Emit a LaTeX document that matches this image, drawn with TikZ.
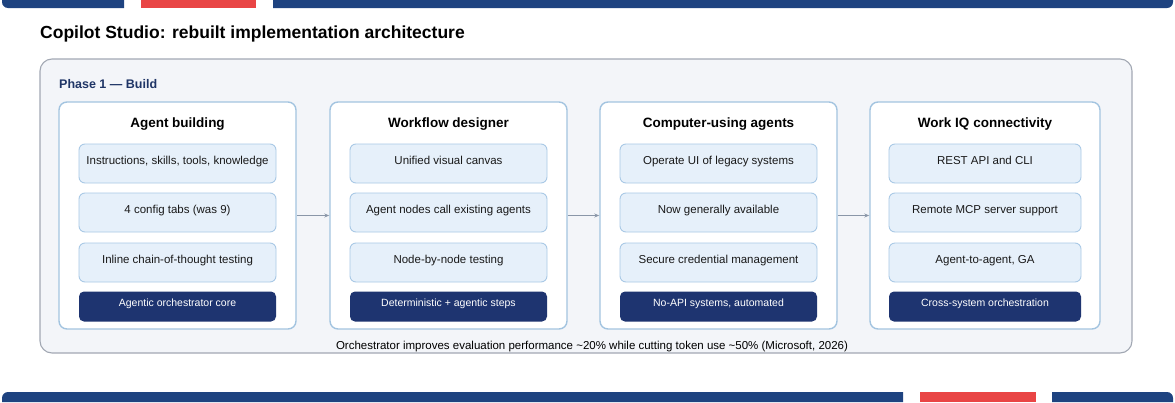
\documentclass[tikz,border=0pt]{standalone}
\usepackage{fontspec}
\setmainfont{Liberation Sans}
\usetikzlibrary{arrows.meta}
\definecolor{barblue}{HTML}{1E4380}
\definecolor{barred}{HTML}{E94545}
\definecolor{darkbox}{HTML}{1E3470}
\definecolor{phasecol}{HTML}{1F3566}
\definecolor{panelfill}{HTML}{F3F5F9}
\definecolor{panelline}{HTML}{A2A8B3}
\definecolor{cardline}{HTML}{A3C4E0}
\definecolor{itemfill}{HTML}{E6F0FA}
\definecolor{itemline}{HTML}{A9C9E6}
\definecolor{arrowcol}{HTML}{8A96A8}
\begin{document}
\begin{tikzpicture}[x=1pt,y=-1pt,
  panel/.style={draw=panelline, fill=panelfill, line width=1.1pt, rounded corners=12pt, minimum width=1092pt, minimum height=294pt, inner sep=0pt},
  card/.style={draw=cardline, fill=white, line width=1.4pt, rounded corners=8pt, minimum height=227pt, inner sep=0pt},
  cardtitle/.style={font=\bfseries\fontsize{13.5}{15}\selectfont, text=black, inner sep=0pt, anchor=base},
  item/.style={draw=itemline, fill=itemfill, line width=0.9pt, rounded corners=6pt, minimum height=39pt, inner sep=0pt, text height=8pt, text depth=7pt, font=\fontsize{11.5}{13}\selectfont, text=black!90},
  dark/.style={fill=darkbox, rounded corners=5pt, minimum height=30pt, inner sep=0pt, text height=7pt, text depth=8pt, font=\fontsize{10.5}{12}\selectfont, text=white},
  flow/.style={draw=arrowcol, line width=0.9pt, -{Stealth[length=5pt,width=4pt]}}
]
\useasboundingbox (0,0) rectangle (1175,402);
% decorative bars
\fill[barblue] (124,0) -- (124,8) [rounded corners=6pt] -- (2,8) [sharp corners] -- (2,0) -- cycle;
\fill[barred] (141,0) rectangle (256,8);
\fill[barblue] (273,0) -- (273,8) [rounded corners=6pt] -- (1173,8) [sharp corners] -- (1173,0) -- cycle;
\fill[barblue] (903,402) -- (903,392) [rounded corners=6pt] -- (2,392) [sharp corners] -- (2,402) -- cycle;
\fill[barred] (920,392) rectangle (1036,402);
\fill[barblue] (1052,402) -- (1052,392) [rounded corners=6pt] -- (1173,392) [sharp corners] -- (1173,402) -- cycle;
% title
\node[anchor=base west, inner sep=0pt, font=\bfseries\fontsize{17.5}{20}\selectfont] (title) at (40,38) {Copilot Studio: rebuilt implementation architecture};
% panel
\node[panel] (panel) at (586,206) {};
\node[anchor=base west, inner sep=0pt, text=phasecol, font=\bfseries\fontsize{12.5}{14}\selectfont] (phase) at (59,88) {Phase 1 — Build};
% cards
\node[card, minimum width=237pt] (c1) at (177.5,215.5) {};
\node[card, minimum width=237pt] (c2) at (448.5,215.5) {};
\node[card, minimum width=237pt] (c3) at (718.5,215.5) {};
\node[card, minimum width=230pt] (c4) at (985,215.5) {};
\node[cardtitle] (t1) at ([yshift=-26pt]c1.north) {Agent building};
\node[cardtitle] (t2) at ([yshift=-26pt]c2.north) {Workflow designer};
\node[cardtitle] (t3) at ([yshift=-26pt]c3.north) {Computer-using agents};
\node[cardtitle] (t4) at ([yshift=-26pt]c4.north) {Work IQ connectivity};
% items card 1
\node[item, minimum width=197pt] (a1) at (177.5,163.5) {Instructions, skills, tools, knowledge};
\node[item, minimum width=197pt] (a2) at (177.5,212.5) {4 config tabs (was 9)};
\node[item, minimum width=197pt] (a3) at (177.5,262.5) {Inline chain-of-thought testing};
\node[dark, minimum width=197pt] (a4) at (177.5,306.5) {Agentic orchestrator core};
% items card 2
\node[item, minimum width=197pt] (b1) at (448.5,163.5) {Unified visual canvas};
\node[item, minimum width=197pt] (b2) at (448.5,212.5) {Agent nodes call existing agents};
\node[item, minimum width=197pt] (b3) at (448.5,262.5) {Node-by-node testing};
\node[dark, minimum width=197pt] (b4) at (448.5,306.5) {Deterministic + agentic steps};
% items card 3
\node[item, minimum width=197pt] (d1) at (718.5,163.5) {Operate UI of legacy systems};
\node[item, minimum width=197pt] (d2) at (718.5,212.5) {Now generally available};
\node[item, minimum width=197pt] (d3) at (718.5,262.5) {Secure credential management};
\node[dark, minimum width=197pt] (d4) at (718.5,306.5) {No-API systems, automated};
% items card 4
\node[item, minimum width=192pt] (e1) at (985,163.5) {REST API and CLI};
\node[item, minimum width=192pt] (e2) at (985,212.5) {Remote MCP server support};
\node[item, minimum width=192pt] (e3) at (985,262.5) {Agent-to-agent, GA};
\node[dark, minimum width=192pt] (e4) at (985,306.5) {Cross-system orchestration};
% arrows
\draw[flow] (c1.east) -- (c2.west);
\draw[flow] (c2.east) -- (c3.west);
\draw[flow] (c3.east) -- (c4.west);
% footer
\node[anchor=base, inner sep=0pt, font=\fontsize{11.5}{13}\selectfont] (foot) at (592,349) {Orchestrator improves evaluation performance \textasciitilde20\% while cutting token use \textasciitilde50\% (Microsoft, 2026)};
\end{tikzpicture}
\end{document}
